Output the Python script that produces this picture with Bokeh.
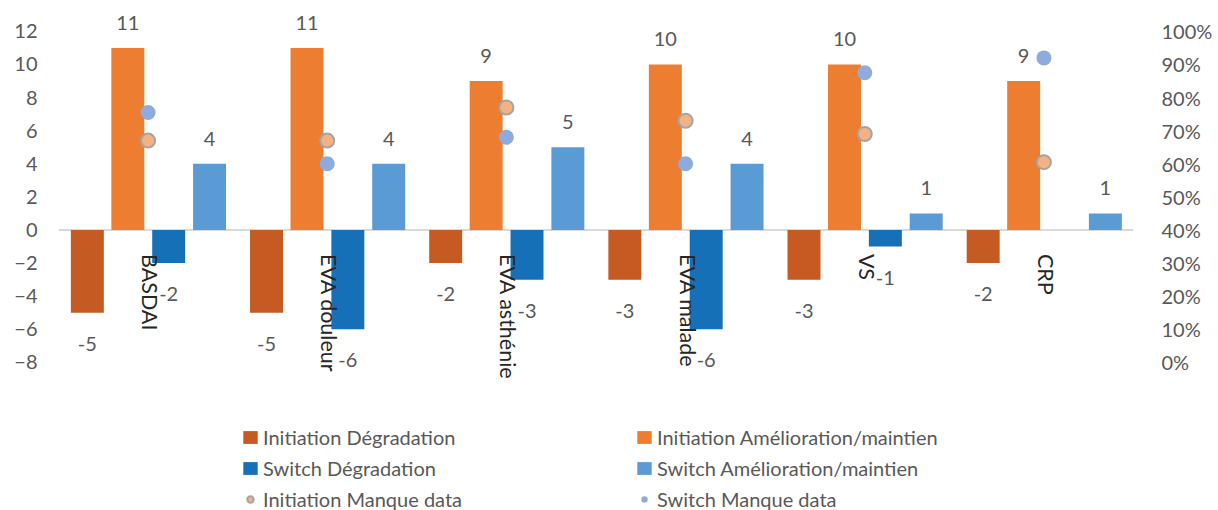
import math
from bokeh.plotting import figure
from bokeh.models import (ColumnDataSource, Range1d, FactorRange, LinearAxis, FixedTicker,
                          NumeralTickFormatter, Span, Legend, LegendItem)
from bokeh.transform import dodge
from bokeh.core.properties import value
from bokeh.embed import file_html
from bokeh.resources import INLINE

categories = ["BASDAI", "EVA douleur", "EVA asthénie", "EVA malade", "VS", "CRP"]
init_degradation = [-5, -5, -2, -3, -3, -2]
init_amelioration = [11, 11, 9, 10, 10, 9]
switch_degradation = [-2, -6, -3, -6, -1, float("nan")]
switch_amelioration = [4, 4, 5, 4, 1, 1]
init_manque = [0.67, 0.67, 0.77, 0.73, 0.69, 0.605]
switch_manque = [0.755, 0.60, 0.68, 0.60, 0.875, 0.92]

left_ticks = [-8, -6, -4, -2, 0, 2, 4, 6, 8, 10, 12]
right_ticks = [0, 0.1, 0.2, 0.3, 0.4, 0.5, 0.6, 0.7, 0.8, 0.9, 1.0]

FONT = "Lato"
GREY = "#595959"

# the plotting frame spans the whole height so that labels and legend are not clipped;
# the left scale -8..12 sits between y=31 and y=362 px
Y_LO, Y_HI = -16.95, 13.867

p = figure(width=1218, height=510, output_backend="svg", toolbar_location=None,
           x_range=FactorRange(*categories, range_padding=0, factor_padding=0),
           y_range=Range1d(Y_LO, Y_HI),
           min_border_left=58, min_border_right=85, min_border_top=0, min_border_bottom=0)
p.extra_y_ranges = {"pct": Range1d((Y_LO + 8) / 20, (Y_HI + 8) / 20)}
p.outline_line_color = None
p.xgrid.visible = False
p.ygrid.visible = False
p.xaxis.visible = False

ya = p.yaxis[0]
ya.ticker = FixedTicker(ticks=left_ticks)
ya.axis_line_color = None
ya.major_tick_line_color = None
ya.minor_tick_line_color = None
ya.major_tick_out = 0
ya.minor_tick_out = 0
ya.major_label_standoff = 21
ya.major_label_text_font = FONT
ya.major_label_text_font_size = "20px"
ya.major_label_text_color = GREY

ra = LinearAxis(y_range_name="pct", ticker=FixedTicker(ticks=right_ticks),
                formatter=NumeralTickFormatter(format="0%"))
ra.axis_line_color = None
ra.major_tick_line_color = None
ra.minor_tick_line_color = None
ra.major_tick_out = 0
ra.minor_tick_out = 0
ra.major_label_standoff = 28
ra.major_label_text_font = FONT
ra.major_label_text_font_size = "20px"
ra.major_label_text_color = GREY
p.add_layout(ra, "right")

p.add_layout(Span(location=0, dimension="width", line_color="#D9D9D9", line_width=2, level="underlay"))

src = ColumnDataSource(dict(cat=categories, idg=init_degradation, iam=init_amelioration,
                            sdg=switch_degradation, sam=switch_amelioration,
                            im=init_manque, sm=switch_manque))

W = 0.184
offs = [-0.339, -0.113, 0.115, 0.343]
series = [("idg", "#C55A22"), ("iam", "#ED7D31"), ("sdg", "#1570B8"), ("sam", "#5B9BD5")]
bar_renderers = []
for (col, color), off in zip(series, offs):
    r = p.vbar(x=dodge("cat", off, range=p.x_range), top=col, bottom=0, width=W,
               source=src, fill_color=color, line_color=None)
    bar_renderers.append(r)

# data labels
label_lists = [init_degradation, init_amelioration, switch_degradation, switch_amelioration]
for vals, off in zip(label_lists, offs):
    xs, ys, ts = [], [], []
    for c, v in zip(categories, vals):
        if v == v:
            xs.append(c); ys.append(v); ts.append(str(int(v)))
    ls = ColumnDataSource(dict(x=xs, y=ys, t=ts))
    yo = -25 if ys[0] > 0 else 31
    p.text(x=dodge("x", off, range=p.x_range), y="y", text="t", source=ls,
           text_font=value(FONT), text_font_size="20px", text_color=GREY,
           text_align="center", text_baseline="middle", y_offset=yo)

# category labels (rotated, along zero line)
cs = ColumnDataSource(dict(x=categories, y=[0] * len(categories)))
p.text(x="x", y="y", text="x", source=cs, angle=-math.pi / 2,
       text_font=value(FONT), text_font_size="21.5px", text_color="#262626",
       text_align="left", text_baseline="middle", y_offset=24, x_offset=2)

# missing-data markers (secondary axis)
r_im = p.scatter(x="cat", y="im", source=src, y_range_name="pct", size=14,
                 fill_color="#F4B183", line_color="#A5A5A5", line_width=2)
r_sm = p.scatter(x="cat", y="sm", source=src, y_range_name="pct", size=15,
                 fill_color="#8FAADC", line_color=None)

names = ["Initiation Dégradation", "Initiation Amélioration/maintien",
         "Switch Dégradation", "Switch Amélioration/maintien",
         "Initiation Manque data", "Switch Manque data"]
rends = bar_renderers + [r_im, r_sm]
legend = Legend(items=[LegendItem(label=n, renderers=[r]) for n, r in zip(names, rends)],
                orientation="horizontal", ncols=2, location=(183, -1),
                label_text_font=FONT, label_text_font_size="20px", label_text_color=GREY,
                glyph_width=18, glyph_height=16, label_height=20, label_width=365,
                label_standoff=4, spacing=7, padding=0, margin=0,
                border_line_color=None, background_fill_alpha=0)
p.add_layout(legend, "center")

open("out.html", "w").write(file_html(p, INLINE))
